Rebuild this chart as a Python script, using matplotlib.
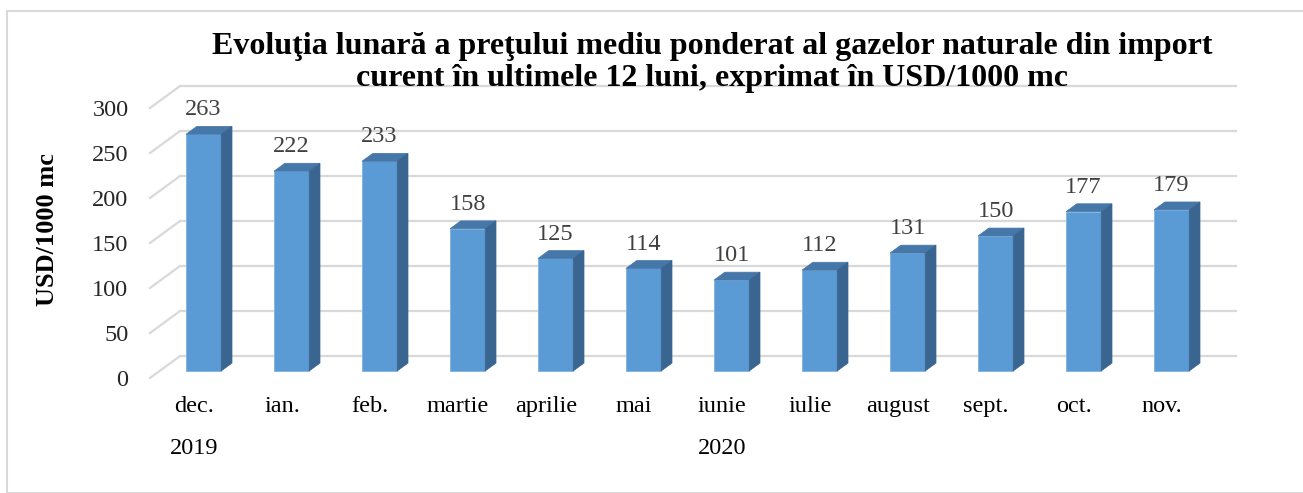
import matplotlib
matplotlib.use("Agg")
import matplotlib.pyplot as plt
from matplotlib.patches import Polygon, Rectangle

months = ["dec.", "ian.", "feb.", "martie", "aprilie", "mai", "iunie",
          "iulie", "august", "sept.", "oct.", "nov."]
prices = [263, 222, 233, 158, 125, 114, 101, 112, 131, 150, 177, 179]
years = ["2019", "2020"]
year_pos = [0, 6]
y_ticks = [0, 50, 100, 150, 200, 250, 300]

title = ("Evoluţia lunară a preţului mediu ponderat al gazelor naturale din import\n"
         "curent în ultimele 12 luni, exprimat în USD/1000 mc")

FRONT = "#5B9BD5"
TOP = "#4677A9"
SIDE = "#3B6591"
GRID = "#D9D9D9"

# oblique depth of the 3D box (category units, value units)
DX, DY = 0.341, 24.4
F0, F1 = 0.32, 0.68  # bar depth slice
W = 0.40

plt.rcParams["font.family"] = ["Liberation Serif", "DejaVu Serif"]

fig = plt.figure(figsize=(13.03, 4.93), dpi=100)
fig.patches.append(Rectangle((7 / 1303, 0), 1.0, 1 - 11 / 493, transform=fig.transFigure,
                             fill=False, edgecolor=GRID, linewidth=1.5))

ax = fig.add_axes([150 / 1303, 115 / 493, 1056 / 1303, 270 / 493])
ax.set_xlim(-0.5, 11.5)
ax.set_ylim(0, 300)
ax.patch.set_alpha(0)
for s in ax.spines.values():
    s.set_visible(False)

# back wall + side wall gridlines
for v in y_ticks:
    ax.plot([-0.5 + DX, 11.5 + DX], [v + DY, v + DY], color=GRID, lw=1.6,
            clip_on=False, zorder=0)
    ax.plot([-0.5, -0.5 + DX], [v, v + DY], color=GRID, lw=1.6,
            clip_on=False, zorder=0)

# bars: front faces
xs = list(range(len(prices)))
fx = [x + F0 * DX for x in xs]
ax.bar(fx, prices, width=W, bottom=F0 * DY, color=FRONT, edgecolor="#7FB3E3",
       linewidth=0.6, zorder=3, clip_on=False)

d = (F1 - F0)
for x, v in zip(fx, prices):
    x0, x1 = x - W / 2, x + W / 2
    y0, y1 = F0 * DY, v + F0 * DY
    top = Polygon([(x0, y1), (x1, y1), (x1 + d * DX, y1 + d * DY), (x0 + d * DX, y1 + d * DY)],
                  closed=True, facecolor=TOP, edgecolor=TOP, lw=0.5, zorder=3, clip_on=False)
    side = Polygon([(x1, y0), (x1 + d * DX, y0 + d * DY), (x1 + d * DX, y1 + d * DY), (x1, y1)],
                   closed=True, facecolor=SIDE, edgecolor=SIDE, lw=0.5, zorder=3, clip_on=False)
    ax.add_patch(top)
    ax.add_patch(side)
    ax.annotate(str(v), (x, y1), xytext=(0, 17.5), textcoords="offset points",
                ha="center", va="center", fontsize=17.5, color="#404040", zorder=5)

ax.set_yticks(y_ticks)
ax.set_yticklabels([str(t) for t in y_ticks], fontsize=17.5, color="#262626")
ax.set_xticks(xs)
ax.set_xticklabels(months, fontsize=17.5, color="black")
ax.tick_params(axis="y", length=0, pad=15.5)
ax.tick_params(axis="x", length=0, pad=13)

for yr, p in zip(years, year_pos):
    ax.text(p, -78, yr, ha="center", va="center", fontsize=17.5, color="black")

fig.text(48 / 1303, 1 - 230 / 493, "USD/1000 mc", rotation=90, ha="center", va="center",
         fontsize=19, fontweight="bold")
fig.text(712 / 1303, 1 - 62.5 / 493, title, ha="center", va="center", fontsize=23,
         fontweight="bold", linespacing=1.16)

fig.savefig("out.png", dpi=100)
